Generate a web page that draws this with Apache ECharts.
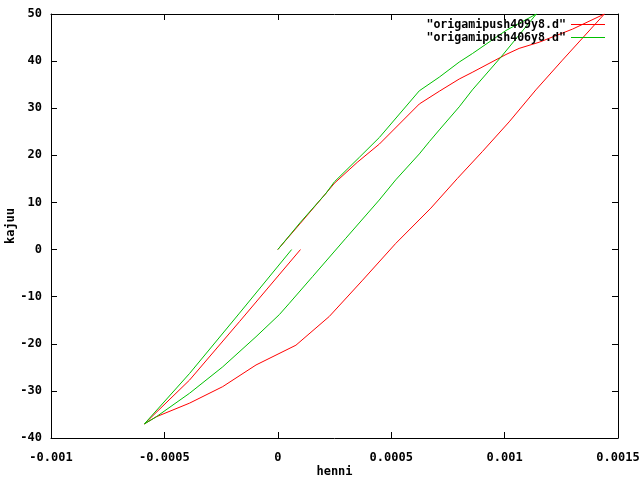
<!DOCTYPE html>
<html>
<head>
<meta charset="utf-8">
<script src="https://cdn.jsdelivr.net/npm/echarts@6/dist/echarts.min.js"></script>
<style>html,body{margin:0;padding:0;background:#fff;}#c{width:640px;height:480px;}</style>
</head>
<body>
<div id="c"></div>
<script>
// Series 1: "origamipush409y8.d" (load -> unload -> reload)
var redX = [0, 0.0001, 0.00021, 0.00025, 0.00035, 0.000448, 0.000624, 0.000712, 0.0008, 0.000857, 0.001006, 0.001064, 0.001152, 0.0013, 0.00144,
            0.001255, 0.001138, 0.00102, 0.000902, 0.000792, 0.000675, 0.00052, 0.000374, 0.000227, 0.00008, -0.000096, -0.000243, -0.000389, -0.000536, -0.000588,
            -0.000389, -0.000169, 0.0001];
var redY = [0, 5.6, 11.8, 14.1, 18.5, 22.4, 30.9, 33.6, 36.2, 37.6, 41.4, 42.7, 44, 46.8, 50,
            40.2, 33.9, 27.1, 20.8, 15.1, 8.8, 1.3, -6.5, -14.2, -20.3, -24.5, -29.1, -32.6, -35.5, -37,
            -27.7, -15.3, 0];
// Series 2: "origamipush406y8.d"
var greenX = [0, 0.0001, 0.00021, 0.00025, 0.00036, 0.000448, 0.000624, 0.000712, 0.0008, 0.000858, 0.001006, 0.00114,
              0.000983, 0.000858, 0.0008, 0.000712, 0.000668, 0.000624, 0.00052, 0.000447, 0.0003, 0.000154, 0.000051, 0.000007, -0.000096, -0.000243, -0.000389, -0.000536, -0.000588,
              -0.000389, -0.000169, 0.000061];
var greenY = [0, 5.8, 11.8, 14.4, 19.6, 23.8, 33.7, 36.6, 39.8, 41.6, 46.5, 50,
              40.8, 33.9, 30.3, 25.4, 22.9, 20.3, 14.8, 10.5, 2.4, -5.7, -11.4, -13.8, -18.5, -24.9, -30.5, -35.5, -37,
              -26.3, -13.5, 0];
var seriesNames = ['"origamipush409y8.d"', '"origamipush406y8.d"'];
var seriesColors = ['#ff0000', '#00c000'];
var xLabel = 'henni', yLabel = 'kajuu';

function zip(xs, ys) { return xs.map(function (x, i) { return [x, ys[i]]; }); }

var font = 'DejaVu Sans Mono';
var txt = { fontFamily: font, fontSize: 12, fontWeight: 'bold', color: '#000' };
function fmt(v) { return String(+v.toFixed(6)); }

var axisCommon = {
  axisLine: { show: true, onZero: false, lineStyle: { color: '#000', width: 1 } },
  axisTick: { show: true, inside: true, length: 6, lineStyle: { color: '#000' } },
  splitLine: { show: false }
};

var chart = echarts.init(document.getElementById('c'), null, { renderer: 'canvas' });
chart.setOption({
  animation: false,
  backgroundColor: '#fff',
  grid: { left: 51, right: 22, top: 14, bottom: 42, containLabel: false, outerBoundsMode: 'none' },
  legend: {
    orient: 'vertical', right: 30, top: 13, align: 'right',
    itemWidth: 34, itemHeight: 1, itemGap: 0, icon: 'rect',
    itemStyle: { borderWidth: 0 },
    textStyle: { fontFamily: font, fontSize: 11.6, fontWeight: 'bold', color: '#000', lineHeight: 13 },
    data: seriesNames
  },
  xAxis: [
    Object.assign({ type: 'value', min: -0.001, max: 0.0015, interval: 0.0005, position: 'bottom',
      name: xLabel, nameLocation: 'middle', nameGap: 28, nameMoveOverlap: false, nameTextStyle: txt,
      axisLabel: Object.assign({ margin: 14, formatter: fmt }, txt) }, axisCommon),
    Object.assign({ type: 'value', min: -0.001, max: 0.0015, interval: 0.0005, position: 'top',
      axisLabel: { show: false } }, axisCommon)
  ],
  yAxis: [
    Object.assign({ type: 'value', min: -40, max: 50, interval: 10, position: 'left',
      name: yLabel, nameLocation: 'middle', nameGap: 34, nameMoveOverlap: false, nameRotate: 90, nameTextStyle: txt,
      axisLabel: Object.assign({ margin: 9 }, txt) }, axisCommon),
    Object.assign({ type: 'value', min: -40, max: 50, interval: 10, position: 'right',
      axisLabel: { show: false } }, axisCommon)
  ],
  series: [
    { name: seriesNames[0], type: 'line', data: zip(redX, redY), showSymbol: false, symbol: 'none',
      lineStyle: { color: seriesColors[0], width: 1 }, itemStyle: { color: seriesColors[0] } },
    { name: seriesNames[1], type: 'line', data: zip(greenX, greenY), showSymbol: false, symbol: 'none',
      lineStyle: { color: seriesColors[1], width: 1 }, itemStyle: { color: seriesColors[1] } }
  ]
});
</script>
</body>
</html>
